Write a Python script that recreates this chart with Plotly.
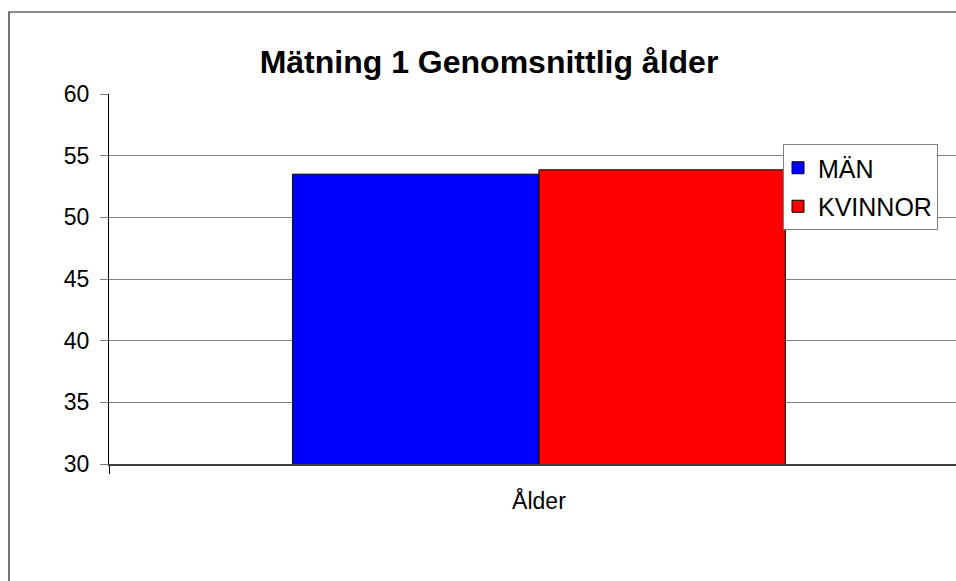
import plotly.graph_objects as go

# Average age per group, measurement 1
categories = ["Ålder"]
series_names = ["MÄN", "KVINNOR"]
series_values = [[53.5], [53.85]]
series_colors = ["#0000FF", "#FF0000"]
y_ticks = [30, 35, 40, 45, 50, 55, 60]

FONT = "Liberation Sans, Arial, sans-serif"

fig = go.Figure()
for i, (name, vals, col) in enumerate(zip(series_names, series_values, series_colors)):
    fig.add_trace(go.Bar(
        x=categories, y=vals, name=name, legendgroup=f"g{i}",
        marker=dict(color=col, line=dict(color="#000000", width=1)),
    ))

fig.update_layout(
    width=956, height=581,
    margin=dict(l=109, r=0, t=94, b=117),
    paper_bgcolor="white", plot_bgcolor="white",
    barmode="group", bargap=0.427, bargroupgap=0,
    font=dict(family=FONT, color="#000000"),
    title=dict(
        text="Mätning 1 Genomsnittlig ålder",
        font=dict(family=FONT, size=32, color="#000000", weight="bold"),
        xref="container", x=489 / 956, xanchor="center",
        yref="container", y=1 - 62 / 581, yanchor="middle",
    ),
    xaxis=dict(
        type="category", range=[-0.5, 0.485],
        showline=True, linecolor="#404040", linewidth=2,
        ticks="outside", tickson="boundaries", ticklen=8, tickcolor="#000000",
        showgrid=False, ticklabelstandoff=15,
        tickfont=dict(size=23, family=FONT, color="#000000"),
    ),
    yaxis=dict(
        range=[30, 60], tickvals=y_ticks,
        showline=True, linecolor="#000000", linewidth=1,
        ticks="outside", ticklen=8, tickcolor="#808080",
        showgrid=True, gridcolor="#808080", gridwidth=1,
        zeroline=False, ticklabelstandoff=6,
        tickfont=dict(size=23, family=FONT, color="#000000"),
    ),
    legend=dict(
        x=(783 - 109) / 847, y=(464 - 144) / 370,
        xanchor="left", yanchor="top",
        bgcolor="white", bordercolor="#808080", borderwidth=1,
        font=dict(size=25, family=FONT, color="#000000"),
        traceorder="grouped", tracegroupgap=3, itemwidth=30,
        indentation=-6,
    ),
    shapes=[dict(
        type="rect", xref="paper", yref="paper",
        x0=(9 - 109) / 847, x1=1.3, y0=-0.6, y1=(464 - 12) / 370,
        line=dict(color="#1a1a1a", width=1.2), fillcolor="rgba(0,0,0,0)",
        layer="above",
    )],
)

fig.write_html("out.html")
